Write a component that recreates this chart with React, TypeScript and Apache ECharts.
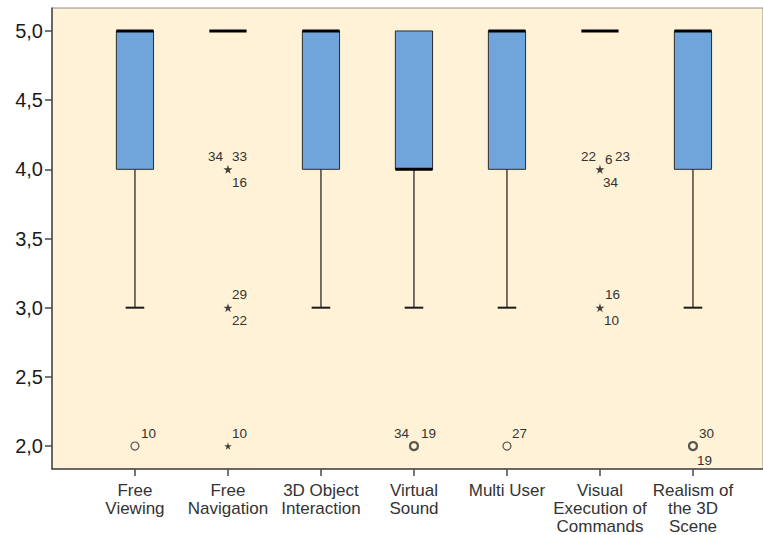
import React, { useEffect, useRef } from "react";
import * as echarts from "echarts";

// Ratings per feature (1-5 scale), summarised as box plots
const categories = [
  "Free\nViewing",
  "Free\nNavigation",
  "3D Object\nInteraction",
  "Virtual\nSound",
  "Multi User",
  "Visual\nExecution of\nCommands",
  "Realism of\nthe 3D\nScene",
];
const whiskerLow = [3, 5, 3, 3, 3, 5, 3];
const quartile1 = [4, 5, 4, 4, 4, 5, 4];
const medians = [5, 5, 5, 4, 5, 5, 5];
const quartile3 = [5, 5, 5, 5, 5, 5, 5];
const whiskerHigh = [5, 5, 5, 5, 5, 5, 5];

// Outliers (o) and extreme values (*) with their case numbers
const outlierCategory = [0, 1, 1, 1, 3, 4, 5, 5, 6];
const outlierValue = [2, 4, 3, 2, 2, 2, 4, 3, 2];
const outlierKind = ["o", "*", "*", "*", "o", "o", "*", "*", "o"];
const outlierCases = [
  ["10"],
  ["34", "33", "16"],
  ["29", "22"],
  ["10"],
  ["34", "19"],
  ["27"],
  ["22", "6", "23", "34"],
  ["16", "10"],
  ["30", "19"],
];

const yTicks = [2.0, 2.5, 3.0, 3.5, 4.0, 4.5, 5.0];

// Placement of each case label around its marker: [dx, dy, align]
const caseLabelPlacement: [number, number, string][][] = [
  [[6, -13, "left"]],
  [[-5, -13, "right"], [4, -13, "left"], [4, 13, "left"]],
  [[4, -13, "left"], [4, 13, "left"]],
  [[4, -13, "left"]],
  [[-5, -13, "right"], [7, -13, "left"]],
  [[5, -13, "left"]],
  [[-4, -13, "right"], [5, -10, "left"], [15, -13, "left"], [3, 13, "left"]],
  [[5, -13, "left"], [4, 13, "left"]],
  [[6, -13, "left"], [4, 14, "left"]],
];

const FONT = "'Liberation Sans', Arial, sans-serif";
const STAR = "path://M50,0 L61,35 L98,35 L68,57 L79,91 L50,70 L21,91 L32,57 L2,35 L39,35 Z";

export default function App() {
  const ref = useRef<HTMLDivElement>(null);

  useEffect(() => {
    if (!ref.current) return;
    const chart = echarts.init(ref.current, null, { renderer: "svg" });

    const boxData = categories.map((_, i) => [
      i + 1,
      whiskerLow[i],
      quartile1[i],
      medians[i],
      quartile3[i],
      whiskerHigh[i],
    ]);

    const circleData: any[] = [];
    const starData: any[] = [];
    outlierValue.forEach((v, k) => {
      const n = outlierCases[k].length;
      const pt = [outlierCategory[k] + 1, v];
      if (outlierKind[k] === "o") {
        circleData.push({
          value: pt,
          itemStyle: { borderWidth: n > 1 ? 2.2 : 1.2 },
        });
      } else {
        starData.push({ value: pt, symbolSize: n > 1 ? 9 : 7.5 });
      }
    });

    const labelData = outlierValue.map((v, k) => [outlierCategory[k] + 1, v, k]);

    chart.setOption({
      animation: false,
      grid: {
        left: 52,
        top: 8,
        right: -2,
        bottom: 66,
        show: true,
        backgroundColor: "#FFF2D6",
        borderColor: "#8c8c8c",
        borderWidth: 1,
      },
      xAxis: {
        type: "value",
        min: 0.108,
        max: 7.753,
        splitLine: { show: false },
        axisLine: { show: true, lineStyle: { color: "#4a4a4a", width: 1.5 } },
        axisTick: {
          show: true,
          length: 7,
          customValues: [1, 2, 3, 4, 5, 6, 7],
          lineStyle: { color: "#4a4a4a", width: 1.5 },
        },
        axisLabel: {
          customValues: [1, 2, 3, 4, 5, 6, 7],
          formatter: (v: number) => categories[Math.round(v) - 1] ?? "",
          fontFamily: FONT,
          fontSize: 17,
          lineHeight: 18,
          color: "#333",
          margin: 12,
        },
      },
      yAxis: {
        type: "value",
        min: 1.834,
        max: 5.166,
        splitLine: { show: false },
        axisLine: { show: true, lineStyle: { color: "#4a4a4a", width: 1.5 } },
        axisTick: {
          show: true,
          length: 7,
          customValues: yTicks,
          lineStyle: { color: "#4a4a4a", width: 1.5 },
        },
        axisLabel: {
          customValues: yTicks,
          formatter: (v: number) => v.toFixed(1).replace(".", ","),
          fontFamily: FONT,
          fontSize: 20,
          color: "#1a1a1a",
          margin: 9,
        },
      },
      series: [
        {
          type: "custom",
          data: boxData,
          renderItem: (params: any, api: any) => {
            const x = api.value(0);
            const lo = api.coord([x, api.value(1)]);
            const b1 = api.coord([x, api.value(2)]);
            const med = api.coord([x, api.value(3)]);
            const b3 = api.coord([x, api.value(4)]);
            const hi = api.coord([x, api.value(5)]);
            const cx = lo[0];
            const w = api.size([0.4, 0])[0];
            const cap = w / 2;
            const children: any[] = [];
            const stroke = { stroke: "#1a1a1a", lineWidth: 1.2 };
            if (lo[1] > b1[1] + 0.5) {
              children.push({
                type: "line",
                shape: { x1: cx, y1: b1[1], x2: cx, y2: lo[1] },
                style: stroke,
              });
              children.push({
                type: "line",
                shape: { x1: cx - cap / 2, y1: lo[1], x2: cx + cap / 2, y2: lo[1] },
                style: { stroke: "#1a1a1a", lineWidth: 2 },
              });
            }
            if (hi[1] < b3[1] - 0.5) {
              children.push({
                type: "line",
                shape: { x1: cx, y1: b3[1], x2: cx, y2: hi[1] },
                style: stroke,
              });
              children.push({
                type: "line",
                shape: { x1: cx - cap / 2, y1: hi[1], x2: cx + cap / 2, y2: hi[1] },
                style: { stroke: "#1a1a1a", lineWidth: 2 },
              });
            }
            if (b1[1] - b3[1] > 0.5) {
              children.push({
                type: "rect",
                shape: { x: cx - w / 2, y: b3[1], width: w, height: b1[1] - b3[1] },
                style: { fill: "#6FA5DB", stroke: "#2b2b2b", lineWidth: 1 },
              });
            }
            children.push({
              type: "line",
              shape: { x1: cx - w / 2, y1: med[1], x2: cx + w / 2, y2: med[1] },
              style: { stroke: "#000", lineWidth: 3 },
            });
            return { type: "group", children };
          },
          z: 2,
        },
        {
          type: "scatter",
          data: circleData,
          symbol: "circle",
          symbolSize: 8,
          itemStyle: { color: "transparent", borderColor: "#2b2b2b" },
          z: 3,
        },
        {
          type: "scatter",
          data: starData,
          symbol: STAR,
          itemStyle: { color: "#111" },
          z: 3,
        },
        {
          type: "custom",
          data: labelData,
          renderItem: (params: any, api: any) => {
            const p = api.coord([api.value(0), api.value(1)]);
            const k = api.value(2);
            const place = caseLabelPlacement[k];
            return {
              type: "group",
              children: outlierCases[k].map((t, j) => ({
                type: "text",
                x: p[0] + place[j][0],
                y: p[1] + place[j][1],
                style: {
                  text: t,
                  fontFamily: FONT,
                  fontSize: 13.5,
                  fill: "#333",
                  align: place[j][2],
                  verticalAlign: "middle",
                },
              })),
            };
          },
          z: 4,
        },
      ],
    });

    return () => chart.dispose();
  }, []);

  return (
    <div
      ref={ref}
      style={{ position: "fixed", left: 0, top: 0, width: 763, height: 535, background: "#fff" }}
    />
  );
}
